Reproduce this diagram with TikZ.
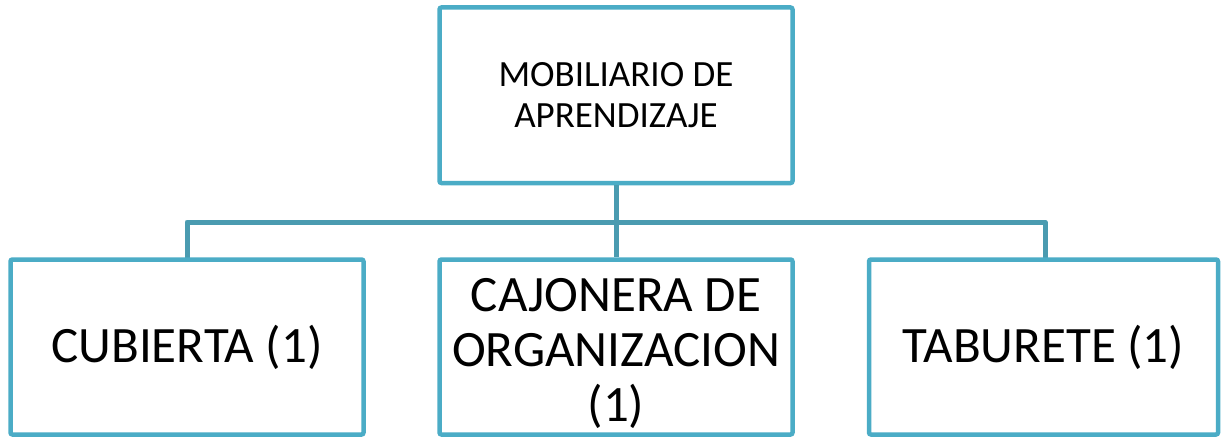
\documentclass[tikz,border=0pt]{standalone}
\usepackage{fontspec}
\setmainfont{Carlito}
\definecolor{boxc}{HTML}{4BACC6}
\definecolor{linec}{HTML}{4A9BB0}
\begin{document}
\begin{tikzpicture}[x=1pt,y=-1pt,
  orgbox/.style={draw=boxc,line width=4.5pt,rounded corners=2pt,fill=white,inner sep=0pt,align=center},
  conn/.style={draw=linec,line width=5pt}]
\useasboundingbox (0,0) rectangle (1222,436);
\node[orgbox,minimum width=353pt,minimum height=175.5pt,font=\fontsize{37}{41}\selectfont] (top) at (616,95.25) {MOBILIARIO DE\\APRENDIZAJE};
\coordinate (hl) at (187,222);
\coordinate (hr) at (1045,222);
\coordinate (hm) at (616,222);
\draw[conn] (top.south) -- (hm);
\draw[conn,line join=round] (187,259.5) -- (hl) -- (hr) -- (1045,259.5);
\node[orgbox,minimum width=353pt,minimum height=175pt,font=\fontsize{51}{55}\selectfont] (left) at (187,347) {CUBIERTA (1)};
\node[orgbox,minimum width=353pt,minimum height=175pt,font=\fontsize{51}{55}\selectfont,text depth=0pt] (mid) at (616,347) {};
\node[font=\fontsize{51}{55}\selectfont,align=center,inner sep=0pt] (midtext) at (616,353) {CAJONERA DE\\ORGANIZACION\\(1)};
\node[orgbox,minimum width=349pt,minimum height=175pt,font=\fontsize{51}{55}\selectfont] (right) at (1043.5,347) {TABURETE (1)};
\draw[conn] (hm) -- (mid.north);
\end{tikzpicture}
\end{document}
